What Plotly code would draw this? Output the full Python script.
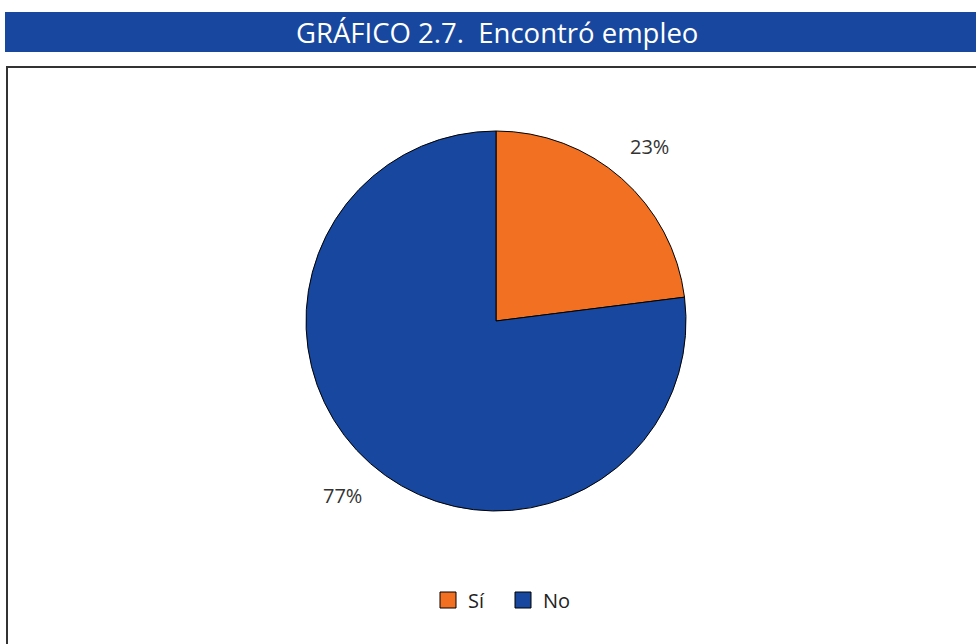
import math
import plotly.graph_objects as go

categories = ["Sí", "No"]
values = [23, 77]
colors = ["#F27022", "#17479E"]
title_text = "GRÁFICO 2.7.  Encontró empleo"

W, H = 976, 644
CX, CY, R = 496, 321, 190  # pie centre / radius in px

fig = go.Figure()
fig.add_trace(go.Pie(
    labels=categories,
    values=values,
    sort=False,
    direction="clockwise",
    rotation=0,
    marker=dict(colors=colors, line=dict(color="#000000", width=1)),
    textinfo="none",
    hoverinfo="label+percent",
    showlegend=False,
    domain=dict(x=[(CX - R) / W, (CX + R) / W],
                y=[1 - (CY + R) / H, 1 - (CY - R) / H]),
))

# percentage labels placed outside the slices, at each slice's mid-angle
total = sum(values)
cum = 0
for v in values:
    mid = (cum + v / 2) / total * 2 * math.pi
    cum += v
    px = CX + 1.225 * R * math.sin(mid)
    py = CY - 1.225 * R * math.cos(mid)
    fig.add_annotation(xref="paper", yref="paper", x=px / W, y=1 - py / H,
                       text=f"{round(v / total * 100)}%", showarrow=False,
                       font=dict(size=20, color="#333333", family="Open Sans"),
                       xanchor="center", yanchor="middle")

# legend via dummy square markers
for c, col in zip(categories, colors):
    fig.add_trace(go.Scatter(x=[None], y=[None], mode="markers", name=c,
                             marker=dict(symbol="square", size=17, color=col,
                                         line=dict(color="#000000", width=1))))

# title band
fig.add_shape(type="rect", xref="paper", yref="paper",
              x0=5 / W, x1=1.01, y0=1 - 52 / H, y1=1 - 12 / H,
              fillcolor="#17479E", line=dict(width=0), layer="below")
fig.add_annotation(xref="paper", yref="paper", x=497 / W, y=1 - 33 / H,
                   text=title_text, showarrow=False,
                   font=dict(size=27.5, color="white", family="Open Sans"),
                   xanchor="center", yanchor="middle")
# border box
fig.add_shape(type="rect", xref="paper", yref="paper",
              x0=7 / W, x1=1.05, y0=-0.05, y1=1 - 67 / H,
              fillcolor="rgba(0,0,0,0)", line=dict(color="#333333", width=2))

fig.update_layout(
    width=W, height=H,
    margin=dict(l=0, r=0, t=0, b=0),
    paper_bgcolor="white",
    plot_bgcolor="white",
    showlegend=True,
    xaxis=dict(visible=False),
    yaxis=dict(visible=False),
    legend=dict(orientation="h", x=503 / W, xanchor="center",
                y=1 - 600 / H, yanchor="middle",
                font=dict(size=20, color="#222222", family="Open Sans"),
                itemsizing="trace", traceorder="normal",
                entrywidth=30, entrywidthmode="pixels"),
)

fig.write_html("out.html", config={"displayModeBar": False},
               post_script="document.body.style.margin='0';")
